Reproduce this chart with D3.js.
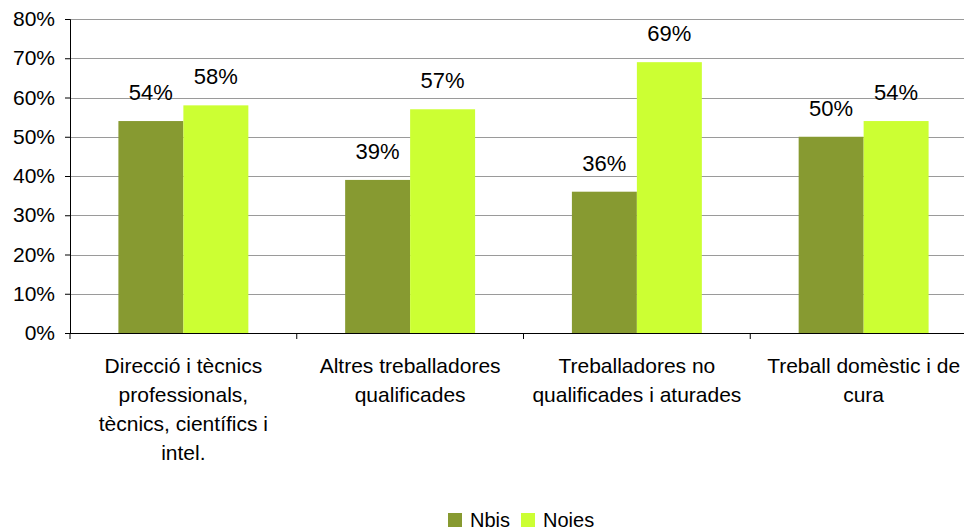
<!DOCTYPE html>
<html><head><meta charset="utf-8">
<script src="https://cdn.jsdelivr.net/npm/d3@7"></script>
<style>
html,body{margin:0;padding:0;background:#fff;}
svg{display:block;font-family:"Liberation Sans",Arial,sans-serif;}
</style></head>
<body>
<svg id="c" width="964" height="532"></svg>
<script>
const categories = [
  ["Direcció i tècnics","professionals,","tècnics, científics i","intel."],
  ["Altres treballadores","qualificades"],
  ["Treballadores no","qualificades i aturades"],
  ["Treball domèstic i de","cura"]
];
const nois = [54, 39, 36, 50];
const noies = [58, 57, 69, 54];
const seriesNames = ["Nbis", "Noies"];
const colors = ["#879a31", "#ccff33"];
const yTicks = [0,10,20,30,40,50,60,70,80];

(function(){
const svg = d3.select("#c");
const mLeft = 70, mRight = 977, mTop = 19, mBottom = 333;
const x = d3.scaleBand().domain(d3.range(categories.length)).range([mLeft, mRight]).paddingInner(0).paddingOuter(0);
const y = d3.scaleLinear().domain([0, 80]).range([mBottom, mTop]);
const inner = d3.scaleBand().domain([0,1]).range([0, x.bandwidth()]).paddingInner(0).paddingOuter(0.745);

// gridlines
svg.append("g").selectAll("line").data(yTicks.filter(d=>d>0)).join("line")
  .attr("x1", mLeft).attr("x2", mRight).attr("y1", d=>Math.round(y(d))+0.5).attr("y2", d=>Math.round(y(d))+0.5)
  .attr("stroke", "#9a9a9a").attr("stroke-width", 1);

// bars
const data = [nois, noies];
data.forEach((vals, s) => {
  const g = svg.append("g");
  g.selectAll("rect").data(vals).join("rect")
    .attr("x", (d,i)=>x(i)+inner(s)).attr("width", inner.bandwidth())
    .attr("y", d=>y(d)).attr("height", d=>mBottom - y(d))
    .attr("fill", colors[s]);
  g.selectAll("text").data(vals).join("text")
    .attr("x", (d,i)=>x(i)+inner(s)+inner.bandwidth()/2)
    .attr("y", d=>y(d)-21)
    .attr("text-anchor","middle").attr("font-size", 22)
    .attr("fill","#000").text(d=>d+"%");
});

// y axis
const yAxis = d3.axisLeft(y).tickValues(yTicks).tickFormat(d=>d+"%").tickSize(5).tickPadding(10);
const ga = svg.append("g").attr("transform", `translate(${mLeft},0)`).call(yAxis);
ga.select(".domain").attr("stroke","#000");
ga.selectAll(".tick line").attr("stroke","#000");
ga.selectAll("text").attr("font-size", 21).attr("fill","#000")
  .attr("font-family","'Liberation Sans',Arial,sans-serif");

// x axis
svg.append("line").attr("x1", mLeft).attr("x2", mRight).attr("y1", mBottom+0.5).attr("y2", mBottom+0.5)
  .attr("stroke","#000");
svg.append("g").selectAll("line").data(d3.range(categories.length+1)).join("line")
  .attr("x1", i=>mLeft + i*x.step()).attr("x2", i=>mLeft + i*x.step())
  .attr("y1", mBottom).attr("y2", mBottom+6).attr("stroke","#000");

// category labels
const cl = svg.append("g").selectAll("text").data(categories).join("text")
  .attr("text-anchor","middle").attr("font-size", 21).attr("fill","#000");
cl.each(function(lines, i){
  d3.select(this).selectAll("tspan").data(lines).join("tspan")
    .attr("x", x(i)+x.bandwidth()/2).attr("y", (d,j)=>373 + j*29).text(d=>d);
});

// legend
const leg = svg.append("g");
const legX = [448, 521];
seriesNames.forEach((n, s) => {
  leg.append("rect").attr("x", legX[s]).attr("y", 513).attr("width", 14).attr("height", 14).attr("fill", colors[s]);
  leg.append("text").attr("x", legX[s]+22).attr("y", 527).attr("font-size", 20)
    .attr("fill","#000").text(n);
});
})();
</script>
</body></html>
